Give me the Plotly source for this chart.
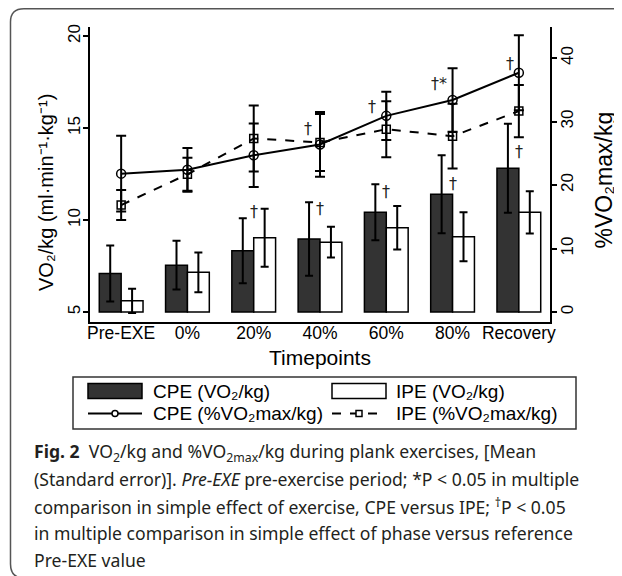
import plotly.graph_objects as go

# ---------------- data ----------------
categories = ["Pre-EXE", "0%", "20%", "40%", "60%", "80%", "Recovery"]

cpe_vo2 = [7.10, 7.55, 8.33, 8.97, 10.42, 11.40, 12.81]
cpe_vo2_se = [1.52, 1.33, 1.77, 2.00, 1.52, 2.12, 2.42]
ipe_vo2 = [5.61, 7.16, 9.04, 8.80, 9.58, 9.09, 10.42]
ipe_vo2_se = [0.66, 1.08, 1.58, 0.84, 1.18, 1.33, 1.15]

cpe_pct = [21.8, 22.4, 24.7, 26.4, 30.9, 33.4, 37.7]
cpe_pct_se = [5.95, 3.45, 5.0, 5.1, 3.8, 5.0, 5.9]
ipe_pct = [16.85, 21.7, 27.35, 26.7, 28.8, 27.7, 31.65]
ipe_pct_se = [2.36, 2.6, 5.2, 4.5, 4.4, 5.1, 4.1]

bar_base = 5.0  # bars start at 5 on the VO2/kg axis

# significance markers: (category, label, y value)
bar_marks = [("20%", "†", 10.45), ("40%", "†", 10.65), ("60%", "†", 11.54),
             ("80%", "†", 12.0), ("Recovery", "†", 13.71)]
line_marks = [(2.82, "†", 28.98), (3.78, "†", 32.3), (4.80, "†*", 36.06),
              (5.87, "†", 39.2)]

legend_labels = ["CPE (VO₂/kg)", "IPE (VO₂/kg)", "CPE (%VO₂max/kg)", "IPE (%VO₂max/kg)"]

caption_lines = [
    "<b>Fig. 2</b>  VO<sub>2</sub>/kg and %VO<sub>2max</sub>/kg during plank exercises, [Mean",
    "(Standard error)]. <i>Pre-EXE</i> pre-exercise period; *P < 0.05 in multiple",
    "comparison in simple effect of exercise, CPE versus IPE; <sup>†</sup>P < 0.05",
    "in multiple comparison in simple effect of phase versus reference",
    "Pre-EXE value",
]

# ---------------- layout geometry ----------------
OFF = 8                       # page body margin of the html page
W, H = 622 - OFF, 576 - OFF   # figure size so it fits the window
L, R, T, B = 90, 550, 27, 322   # plot area in page pixels
FONT = "Liberation Sans, Arial, sans-serif"
MARKFONT = "DejaVu Sans, sans-serif"
CAPFONT = "Noto Sans, Open Sans, sans-serif"


def px(x, y):
    """page pixel -> paper coordinates"""
    return (x - L) / (R - L), (B - y) / (B - T)


fig = go.Figure()

fig.add_trace(go.Bar(
    x=categories, y=[v - bar_base for v in cpe_vo2], base=bar_base,
    marker=dict(color="#333333", line=dict(color="black", width=1.5)),
    error_y=dict(type="data", array=cpe_vo2_se, color="black", thickness=2, width=4),
    name=legend_labels[0], showlegend=False,
))
fig.add_trace(go.Bar(
    x=categories, y=[v - bar_base for v in ipe_vo2], base=bar_base,
    marker=dict(color="white", line=dict(color="black", width=1.5)),
    error_y=dict(type="data", array=ipe_vo2_se, color="black", thickness=2, width=4),
    name=legend_labels[1], showlegend=False,
))
fig.add_trace(go.Scatter(
    x=categories, y=ipe_pct, yaxis="y2", mode="lines+markers",
    line=dict(color="black", width=2, dash="dash"),
    marker=dict(symbol="square-open", size=8, color="black", line=dict(width=1.5)),
    error_y=dict(type="data", array=ipe_pct_se, color="black", thickness=2, width=5),
    name=legend_labels[3], showlegend=False,
))
fig.add_trace(go.Scatter(
    x=categories, y=cpe_pct, yaxis="y2", mode="lines+markers",
    line=dict(color="black", width=2),
    marker=dict(symbol="circle-open", size=9, color="black", line=dict(width=1.5)),
    error_y=dict(type="data", array=cpe_pct_se, color="black", thickness=2, width=5),
    name=legend_labels[2], showlegend=False,
))

annotations = []
for cat, lab, yv in bar_marks:
    annotations.append(dict(x=cat, y=yv, xref="x", yref="y", text=lab, showarrow=False,
                            font=dict(family=MARKFONT, size=16, color="#222222"),
                            xanchor="center", yanchor="middle"))
for xv, lab, yv in line_marks:
    annotations.append(dict(x=xv, y=yv, xref="x", yref="y2", text=lab, showarrow=False,
                            font=dict(family=MARKFONT, size=16, color="#222222"),
                            xanchor="center", yanchor="middle"))

# axis titles
ax, ay = px(320, 357)
annotations.append(dict(x=ax, y=ay, xref="paper", yref="paper", text="Timepoints",
                        showarrow=False, font=dict(family=FONT, size=21, color="black"),
                        xanchor="center", yanchor="middle"))
ax, ay = px(46, 193)
annotations.append(dict(x=ax, y=ay, xref="paper", yref="paper",
                        text="VO₂/kg (ml·min⁻¹·kg⁻¹)", textangle=-90,
                        showarrow=False, font=dict(family=FONT, size=20, color="black"),
                        xanchor="center", yanchor="middle"))
ax, ay = px(603, 251)
annotations.append(dict(x=ax, y=ay, xref="paper", yref="paper", text="%VO₂max/kg",
                        textangle=-90, showarrow=False,
                        font=dict(family=FONT, size=23, color="black"),
                        xanchor="center", yanchor="bottom"))

# manual legend
shapes = []
x0, y0 = px(73, 377)
x1, y1 = px(576, 429)
shapes.append(dict(type="rect", xref="paper", yref="paper", x0=x0, y0=y0, x1=x1, y1=y1,
                   line=dict(color="#333333", width=1.5), fillcolor="rgba(0,0,0,0)"))
for (lx, fill) in [(88, "#333333"), (332, "white")]:
    a0, b0 = px(lx, 383.5)
    a1, b1 = px(lx + 54, 398.5)
    shapes.append(dict(type="rect", xref="paper", yref="paper", x0=a0, y0=b0, x1=a1, y1=b1,
                       line=dict(color="black", width=1.5), fillcolor=fill))
for (lx, dash) in [(88, "solid"), (332, "dash")]:
    a0, b0 = px(lx, 413.5)
    a1, b1 = px(lx + 54, 413.5)
    shapes.append(dict(type="line", xref="paper", yref="paper", x0=a0, y0=b0, x1=a1, y1=b1,
                       line=dict(color="black", width=2, dash=dash)))
a0, b0 = px(115 - 3, 413.5 - 3)
a1, b1 = px(115 + 3, 413.5 + 3)
shapes.append(dict(type="circle", xref="paper", yref="paper", x0=a0, y0=b0, x1=a1, y1=b1,
                   line=dict(color="black", width=1.5), fillcolor="white"))
a0, b0 = px(359 - 3, 413.5 - 3)
a1, b1 = px(359 + 3, 413.5 + 3)
shapes.append(dict(type="rect", xref="paper", yref="paper", x0=a0, y0=b0, x1=a1, y1=b1,
                   line=dict(color="black", width=1.5), fillcolor="white"))
for (tx, ty, lab) in [(151, 391.5, legend_labels[0]), (394, 391.5, legend_labels[1]),
                      (151, 413.5, legend_labels[2]), (394, 413.5, legend_labels[3])]:
    a, b = px(tx, ty)
    annotations.append(dict(x=a, y=b, xref="paper", yref="paper", text=lab, showarrow=False,
                            font=dict(family=FONT, size=19, color="black"),
                            xanchor="left", yanchor="middle"))

# caption
for i, line in enumerate(caption_lines):
    a, b = px(32, 452 + i * 27)
    annotations.append(dict(x=a, y=b, xref="paper", yref="paper", text=line, showarrow=False,
                            font=dict(family=CAPFONT, size=17.6, color="#231f20"),
                            xanchor="left", yanchor="middle"))

# rounded outer frame
def P(x, y):
    a, b = px(x, y)
    return f"{a:.5f},{b:.5f}"

frame = (f"M {P(640, 8.8)} L {P(24, 8.8)} Q {P(10.5, 8.8)} {P(10.5, 22)} L {P(10.5, 564)} "
         f"Q {P(10.5, 578)} {P(24, 578)} L {P(640, 578)}")
shapes.append(dict(type="path", xref="paper", yref="paper", path=frame,
                   line=dict(color="#555555", width=1.5)))

fig.update_layout(
    width=W, height=H,
    margin=dict(l=L - OFF, r=(W + OFF) - R, t=T - OFF, b=(H + OFF) - B, pad=0),
    paper_bgcolor="white", plot_bgcolor="white",
    barmode="group", bargap=0.34, bargroupgap=0,
    showlegend=False,
    font=dict(family=FONT, color="black"),
    xaxis=dict(type="category", range=[-0.47, 6.47], showline=True, linecolor="black",
               linewidth=1.5, ticks="", showgrid=False, zeroline=False,
               ticklabelstandoff=-6,
               tickfont=dict(family=FONT, size=17.5, color="black")),
    yaxis=dict(range=[4.46, 20.49], tickvals=[5, 10, 15, 20], tickangle=-90,
               ticks="outside", ticklen=5, tickwidth=1.5, tickcolor="black",
               showline=True, linecolor="black", linewidth=1.5, showgrid=False,
               zeroline=False, ticklabelstandoff=-4,
               tickfont=dict(family=FONT, size=17, color="black")),
    yaxis2=dict(range=[-1.57, 44.9], tickvals=[0, 10, 20, 30, 40], tickangle=-90,
                overlaying="y", side="right",
                ticks="outside", ticklen=5, tickwidth=1.5, tickcolor="black",
                showline=True, linecolor="black", linewidth=1.5, showgrid=False,
                zeroline=False, ticklabelstandoff=-4,
                tickfont=dict(family=FONT, size=17, color="black")),
    annotations=annotations,
    shapes=shapes,
)

fig.write_html("out.html")
